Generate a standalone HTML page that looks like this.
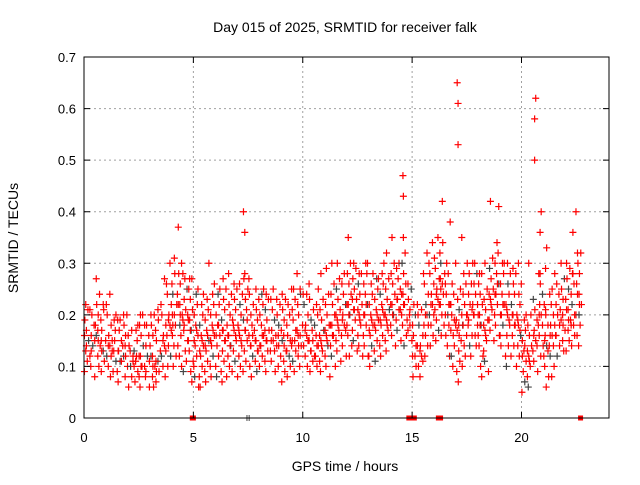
<!DOCTYPE html>
<html><head><meta charset="utf-8"><style>
body{margin:0;background:#fff}
svg{font-family:"Liberation Sans",sans-serif}
</style></head><body>
<svg id="chart" width="640" height="480" viewBox="0 0 640 480">
<rect width="640" height="480" fill="#fff"/>
<text x="345" y="32" font-size="14" text-anchor="middle">Day 015 of 2025, SRMTID for receiver falk</text>
<text transform="translate(18,238) rotate(-90)" font-size="14" text-anchor="middle">SRMTID / TECUs</text>
<text x="345" y="471" font-size="14" text-anchor="middle">GPS time / hours</text>
<g id="grid"></g><g id="marks"></g><g id="axes"></g>
</svg>
<script>
const yTicks=[0,0.1,0.2,0.3,0.4,0.5,0.6,0.7];
const yTickLabels=["0","0.1","0.2","0.3","0.4","0.5","0.6","0.7"];
const xTicks=[0,5,10,15,20];
const xTickLabels=["0","5","10","15","20"];
const binStart=0, binWidth=0.25;
const lowVals=[.09,.08,.1,.09, .08,.09,.07,.08, .06,.07,.06,.06, .06,.07,.08,.1, .1,.1,.09,.07, .06,.06,.07,.08, .08,.07,.08,.09, .08,.09,.08,.09, .1,.09,.09,.1, .07,.08,.09,.1, .1,.09,.1,.09, .08,.1,.11,.12, .12,.13,.12,.12, .1,.11,.12,.13, .14,.15,.14,.15, .08,.08,.12,.14, .15,.16,.12,.1, .07,.1,.12,.14, .08,.09,.15,.16, .14,.1,.12,.1, .05,.06,.09,.12, .06,.08,.12,.13, .13,.14,.14];
const midVals=[.16,.15,.17,.15, .14,.15,.13,.14, .13,.12,.12,.11, .12,.11,.15,.19, .2,.22,.2,.19, .17,.15,.16,.17, .18,.17,.16,.18, .17,.19,.16,.15, .16,.17,.15,.16, .16,.15,.17,.16, .17,.15,.14,.16, .17,.18,.2,.19, .22,.23,.21,.22, .19,.2,.21,.2, .22,.23,.24,.2, .14,.13,.2,.22, .24,.27,.22,.19, .18,.2,.21,.22, .2,.18,.24,.26, .22,.21,.2,.19, .14,.13,.16,.2, .15,.16,.18,.2, .21,.2,.24];
const highVals=[.22,.21,.27,.22, .24,.2,.19,.2, .17,.18,.2,.18, .2,.21,.27,.3, .31,.37,.28,.27, .25,.24,.3,.26, .25,.27,.28,.26, .26,.4,.27,.25, .25,.24,.25,.23, .24,.25,.28,.25, .24,.26,.25,.28, .29,.3,.3,.28, .35,.3,.28,.3, .28,.27,.3,.32, .35,.3,.47,.26, .22,.21,.32,.34, .35,.42,.38,.3, .65,.35,.3,.3, .28,.3,.42,.41, .3,.3,.29,.3, .2,.3,.62,.4, .33,.25,.28,.3, .3,.4,.32];
const zeroTimes=[4.95,5.0,14.85,14.95,15.05,15.1,16.2,16.3,22.7];
const zeroBlackTimes=[7.45,7.55];
const X0=84,X1=609,Y0=418,Y1=57,XMAX=24,YMAX=0.7;
const sx=v=>X0+(X1-X0)*v/XMAX, sy=v=>Y0-(Y0-Y1)*v/YMAX;
const NS="http://www.w3.org/2000/svg";
const grid=document.getElementById('grid'),marks=document.getElementById('marks'),axes=document.getElementById('axes');
function mk(tag,attrs,parent){const e=document.createElementNS(NS,tag);for(const k in attrs)e.setAttribute(k,attrs[k]);parent.appendChild(e);return e;}
yTicks.forEach((t,i)=>{
  if(i>0&&i<yTicks.length-1){const g=mk('line',{x1:X0,x2:X1,y1:sy(t),y2:sy(t),stroke:'#a0a0a0','stroke-dasharray':'2,3'},grid);
  
  }
  const tk=mk('path',{d:`M${X0},${sy(t)}h6M${X1},${sy(t)}h-6`,stroke:'#000'},axes);
  
  
  const l=mk('text',{x:X0-8,y:sy(t)+5,'font-size':13,'text-anchor':'end'},axes);l.textContent=yTickLabels[i];
  
  
});
xTicks.forEach((t,i)=>{
  if(i>0){const g=mk('line',{x1:sx(t),x2:sx(t),y1:Y0,y2:Y1,stroke:'#a0a0a0','stroke-dasharray':'2,3'},grid);
  
  }
  const tk=mk('path',{d:`M${sx(t)},${Y0}v-6M${sx(t)},${Y1}v6`,stroke:'#000'},axes);
  
  
  const l=mk('text',{x:sx(t),y:Y0+24,'font-size':13,'text-anchor':'middle'},axes);l.textContent=xTickLabels[i];
  
  
});
const frame=mk('rect',{x:X0,y:Y1,width:X1-X0,height:Y0-Y1,fill:'none',stroke:'#000'},axes);


function plus(h,v,color){
  const p=mk('path',{d:`M${sx(h)-3.5},${sy(v)}h7M${sx(h)},${sy(v)-3.5}v7`,stroke:color,'stroke-width':1.2},marks);
  
  
}
const offs=[0.02,0.15,0.08,0.21,0.11,0.04,0.18,0.13,0.24,0.06];
let n=0;
midVals.forEach((m,i)=>{
  const h0=binStart+i*binWidth,lo=lowVals[i],hi=highVals[i];
  const top=Math.min(hi,m+0.08);
  for(let v=lo;v<=top+1e-9;v+=0.02){
    const c=(n%8===3)?'#444':'#f00';
    plus(h0+offs[n%offs.length],v,c);n++;
  }
  plus(h0+offs[(n+3)%offs.length],m,'#f00');
  plus(h0+offs[(n+7)%offs.length],m-0.02,'#f00');
  plus(h0+offs[(n+5)%offs.length],hi,'#f00');
  if(hi-top>0.1){plus(h0+0.1,hi-0.04,'#f00');plus(h0+0.1,hi-0.12,'#f00');}
  n++;
});
zeroTimes.forEach(t=>{const r=mk('rect',{x:sx(t)-2.5,y:Y0-2.5,width:5,height:5,fill:'#f00'},marks);
  
  });
zeroBlackTimes.forEach(t=>{const r=mk('path',{d:`M${sx(t)},${Y0-3}v6`,stroke:'#444'},marks);
  
  });
</script>
</body></html>
